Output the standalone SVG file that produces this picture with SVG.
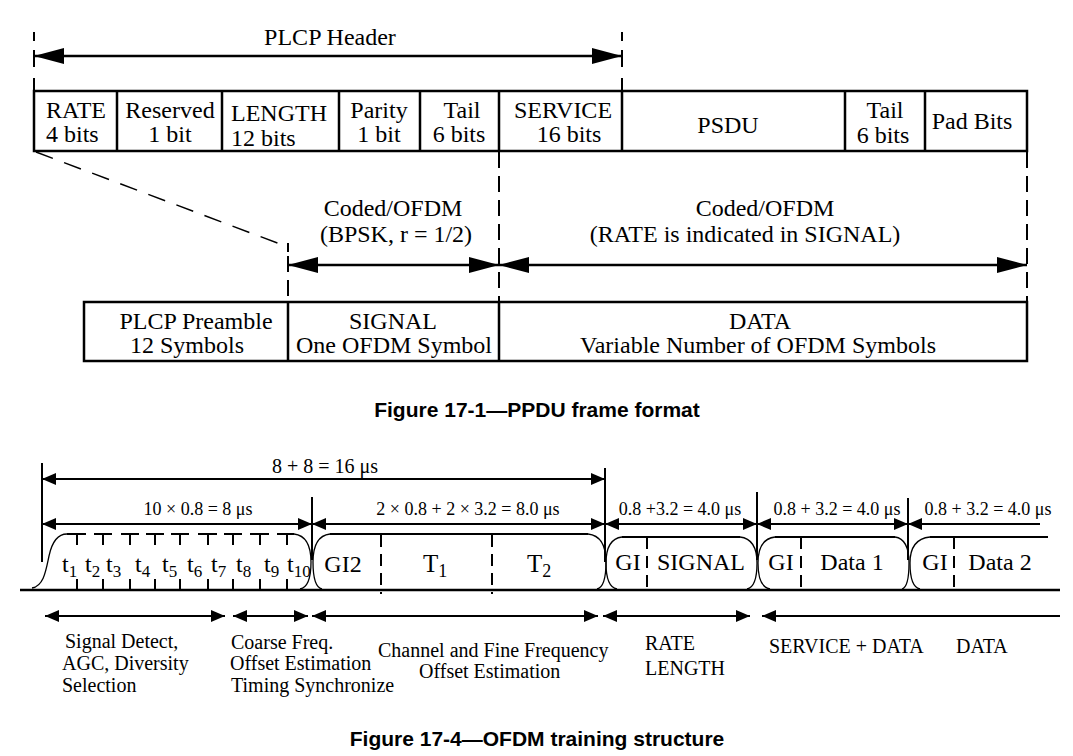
<svg xmlns="http://www.w3.org/2000/svg" width="1073" height="756" viewBox="0 0 1073 756">
<style>
.t{font-family:"Liberation Serif","Times New Roman",serif;fill:#000}
.b24{font-size:24px}
.s18{font-size:18px}
.s20{font-size:20px}
.c{text-anchor:middle}
.cap{font-family:"Liberation Sans",Arial,sans-serif;font-weight:bold;font-size:21px;text-anchor:middle;fill:#000}
.ln{stroke:#000;fill:none}
.box{stroke:#000;stroke-width:2.5;fill:#fff}
.dash{stroke:#000;stroke-width:2;stroke-dasharray:16,8;fill:none}
.thin{stroke:#000;stroke-width:1.3;fill:none}
.big{stroke:#000;stroke-width:2.5;marker-start:url(#ab);marker-end:url(#ab)}
.sm{stroke:#000;stroke-width:2;marker-start:url(#as);marker-end:url(#as)}
.sml{stroke:#000;stroke-width:2;marker-start:url(#as)}
</style>
<defs>
<marker id="ab" viewBox="0 0 30 16" refX="30" refY="8" markerWidth="30" markerHeight="16" markerUnits="userSpaceOnUse" orient="auto-start-reverse"><path d="M0,0 L30,8 L0,16 z" fill="#000"/></marker>
<marker id="as" viewBox="0 0 14 12" refX="14" refY="6" markerWidth="14" markerHeight="12" markerUnits="userSpaceOnUse" orient="auto-start-reverse"><path d="M0,0 L14,6 L0,12 z" fill="#000"/></marker>
</defs>
<rect width="1073" height="756" fill="#fff"/>

<!-- ===== Figure 17-1 ===== -->
<g id="connectors-top">
  <path class="ln" stroke-width="2" d="M34 32V41M34 50V67M34 78V91M622 32V41M622 50V67M622 78V91"/>
  <line class="big" x1="34" y1="56" x2="622" y2="56"/>
  <line class="ln" stroke-width="1.5" stroke-dasharray="18,12" x1="36" y1="152" x2="288" y2="247"/>
  <path class="ln" stroke-width="2" d="M288 243V252"/>
  <line class="dash" x1="288" y1="256" x2="288" y2="302"/>
  <line class="dash" x1="499" y1="152" x2="499" y2="302"/>
  <line class="dash" x1="1027" y1="152" x2="1027" y2="302"/>
  <line class="big" x1="288" y1="265" x2="499" y2="265"/>
  <line class="big" x1="499" y1="265" x2="1027" y2="265"/>
</g>
<text class="t b24 c" x="330" y="45">PLCP Header</text>

<g id="header-row">
  <rect class="box" x="34" y="91" width="993" height="60"/>
  <path class="ln" stroke-width="2.5" d="M117 91V151M222 91V151M339 91V151M420 91V151M499 91V151M622 91V151M845 91V151M925 91V151"/>
</g>
<g id="rate"><text class="t b24" x="46" y="118">RATE</text><text class="t b24" x="46" y="142">4 bits</text></g>
<g id="reserved"><text class="t b24 c" x="170" y="118">Reserved</text><text class="t b24 c" x="170" y="142">1 bit</text></g>
<g id="length"><text class="t b24" x="231" y="121">LENGTH</text><text class="t b24" x="231" y="146">12 bits</text></g>
<g id="parity"><text class="t b24 c" x="379" y="118">Parity</text><text class="t b24 c" x="379" y="142">1 bit</text></g>
<g id="tail1"><text class="t b24 c" x="462" y="118">Tail</text><text class="t b24 c" x="459" y="142">6 bits</text></g>
<g id="service"><text class="t b24 c" x="563" y="118">SERVICE</text><text class="t b24 c" x="569" y="142">16 bits</text></g>
<g id="psdu"><text class="t b24 c" x="728" y="133">PSDU</text></g>
<g id="tail2"><text class="t b24 c" x="885" y="118">Tail</text><text class="t b24 c" x="883" y="143">6 bits</text></g>
<g id="padbits"><text class="t b24 c" x="972" y="129">Pad Bits</text></g>

<g id="coded-bpsk"><text class="t b24 c" x="393" y="216">Coded/OFDM</text><text class="t b24 c" x="396" y="242">(BPSK, r = 1/2)</text></g>
<g id="coded-rate"><text class="t b24 c" x="765" y="216">Coded/OFDM</text><text class="t b24 c" x="745" y="242">(RATE is indicated in SIGNAL)</text></g>

<g id="ppdu-row">
  <rect class="box" x="84" y="302" width="943" height="59"/>
  <path class="ln" stroke-width="2.5" d="M288 302V361M499 302V361"/>
</g>
<g id="preamble"><text class="t b24 c" x="196" y="329">PLCP Preamble</text><text class="t b24 c" x="187" y="353">12 Symbols</text></g>
<g id="signal"><text class="t b24 c" x="393" y="329">SIGNAL</text><text class="t b24 c" x="394" y="353">One OFDM Symbol</text></g>
<g id="data"><text class="t b24 c" x="760" y="329">DATA</text><text class="t b24 c" x="758" y="353">Variable Number of OFDM Symbols</text></g>

<text class="cap" x="537" y="417">Figure 17-1—PPDU frame format</text>

<!-- ===== Figure 17-4 ===== -->
<g id="connectors-bottom">
  <path class="ln" stroke-width="2" d="M42 463V562M312 497V560M605 468V562M757 492V560M908 498V560"/>
  <line class="sm" x1="42" y1="479" x2="605" y2="479"/>
  <line class="sm" x1="42" y1="524" x2="312" y2="524"/>
  <line class="sm" x1="312" y1="524" x2="605" y2="524"/>
  <line class="sm" x1="605" y1="524" x2="757" y2="524"/>
  <line class="sm" x1="757" y1="524" x2="908" y2="524"/>
  <line class="sml" x1="908" y1="524" x2="1040" y2="524"/>
  <line class="ln" stroke-width="2.5" x1="20" y1="590" x2="1060" y2="590"/>
  <line class="sm" x1="45" y1="616" x2="225" y2="616"/>
  <line class="sm" x1="233" y1="616" x2="308" y2="616"/>
  <line class="sm" x1="312" y1="616" x2="598" y2="616"/>
  <line class="sm" x1="603" y1="616" x2="750" y2="616"/>
  <line class="sml" x1="762" y1="616" x2="1060" y2="616"/>
</g>
<text class="t s20 c" x="325" y="473">8 + 8 = 16 μs</text>
<text class="t s18 c" x="198" y="515">10 × 0.8 = 8 μs</text>
<text class="t s18 c" x="468" y="515">2 × 0.8 + 2 × 3.2 = 8.0 μs</text>
<text class="t s18 c" x="680" y="515">0.8 +3.2 = 4.0 μs</text>
<text class="t s18 c" x="837" y="515">0.8 + 3.2 = 4.0 μs</text>
<text class="t s18 c" x="988" y="515">0.8 + 3.2 = 4.0 μs</text>

<g id="short-training">
  <path class="thin" d="M32 588 C44 586,46 570,49 556 C52 542,57 534,67 534"/>
  <path class="ln" stroke-width="2" d="M67 534H86M94 534H112M121 534H139M146 534H164M171 534H189M198 534H217M224 534H242M250 534H269M277 534H294"/>
  <path class="ln" stroke-width="2" d="M77 534V545M103 534V545M130 534V545M155 534V545M180 534V545M208 534V545M233 534V545M260 534V545M287 534V545M77 579V590M103 579V590M130 579V590M155 579V590M180 579V590M208 579V590M233 579V590M260 579V590M287 579V590"/>
  <path class="thin" d="M294 534 Q311 536 311 562 Q311 587 300 589"/>
  <g class="t" font-size="24">
    <text x="62" y="572">t<tspan font-size="17" dy="5">1</tspan></text>
    <text x="85" y="572">t<tspan font-size="17" dy="5">2</tspan></text>
    <text x="106" y="572">t<tspan font-size="17" dy="5">3</tspan></text>
    <text x="135" y="572">t<tspan font-size="17" dy="5">4</tspan></text>
    <text x="162" y="572">t<tspan font-size="17" dy="5">5</tspan></text>
    <text x="187" y="572">t<tspan font-size="17" dy="5">6</tspan></text>
    <text x="211" y="572">t<tspan font-size="17" dy="5">7</tspan></text>
    <text x="236" y="572">t<tspan font-size="17" dy="5">8</tspan></text>
    <text x="264" y="572">t<tspan font-size="17" dy="5">9</tspan></text>
    <text x="287" y="572">t<tspan font-size="17" dy="5">10</tspan></text>
  </g>
</g>
<g id="long-training">
  <path class="thin" d="M330 534 Q313 536 313 562 Q313 587 322 589"/>
  <line class="ln" stroke-width="2" x1="330" y1="534" x2="588" y2="534"/>
  <path class="thin" d="M588 534 Q606 536 606 562 Q606 587 597 589"/>
  <path class="ln" stroke-width="2" stroke-dasharray="12,7" d="M381 535V594M492 535V594"/>
  <text class="t b24 c" x="343" y="572">GI2</text>
  <text class="t" font-size="25" x="423" y="572">T<tspan font-size="18" dy="5">1</tspan></text>
  <text class="t" font-size="25" x="527" y="572">T<tspan font-size="18" dy="5">2</tspan></text>
</g>
<g id="signal-symbol">
  <path class="thin" d="M622 537 Q606 539 606 563 Q606 587 617 589"/>
  <line class="ln" stroke-width="2" x1="622" y1="537" x2="740" y2="537"/>
  <path class="thin" d="M740 537 Q757 539 757 563 Q757 587 747 589"/>
  <line class="ln" stroke-width="2" stroke-dasharray="12,7" x1="647" y1="537" x2="647" y2="594"/>
  <text class="t b24 c" x="628" y="570">GI</text>
  <text class="t b24 c" x="701" y="570">SIGNAL</text>
</g>
<g id="data1-symbol">
  <path class="thin" d="M775 537 Q758 539 758 563 Q758 587 770 589"/>
  <line class="ln" stroke-width="2" x1="775" y1="537" x2="895" y2="537"/>
  <path class="thin" d="M895 537 Q909 539 909 563 Q909 587 902 589"/>
  <line class="ln" stroke-width="2" stroke-dasharray="12,7" x1="801" y1="537" x2="801" y2="594"/>
  <text class="t b24 c" x="781" y="570">GI</text>
  <text class="t b24 c" x="852" y="570">Data 1</text>
</g>
<g id="data2-symbol">
  <path class="thin" d="M930 537 Q910 539 910 563 Q910 587 920 589"/>
  <line class="ln" stroke-width="2" x1="930" y1="537" x2="1048" y2="537"/>
  <line class="ln" stroke-width="2" stroke-dasharray="12,7" x1="954" y1="537" x2="954" y2="594"/>
  <text class="t b24 c" x="935" y="570">GI</text>
  <text class="t b24 c" x="1000" y="570">Data 2</text>
</g>

<g id="annotations">
  <g id="ann-signal-detect" class="t s20"><text x="65" y="648">Signal Detect,</text><text x="62" y="670">AGC, Diversity</text><text x="62" y="692">Selection</text></g>
  <g id="ann-coarse" class="t s20"><text x="231" y="649">Coarse Freq.</text><text x="230" y="670">Offset Estimation</text><text x="231" y="692">Timing Synchronize</text></g>
  <g id="ann-channel" class="t s20"><text x="378" y="657">Channel and Fine Frequency</text><text x="419" y="678">Offset Estimation</text></g>
  <g id="ann-rate" class="t s20"><text x="645" y="650">RATE</text><text x="645" y="675">LENGTH</text></g>
  <g id="ann-service" class="t s20"><text x="769" y="653">SERVICE + DATA</text></g>
  <g id="ann-data" class="t s20"><text x="956" y="653">DATA</text></g>
</g>

<text class="cap" x="537" y="746">Figure 17-4—OFDM training structure</text>
</svg>
